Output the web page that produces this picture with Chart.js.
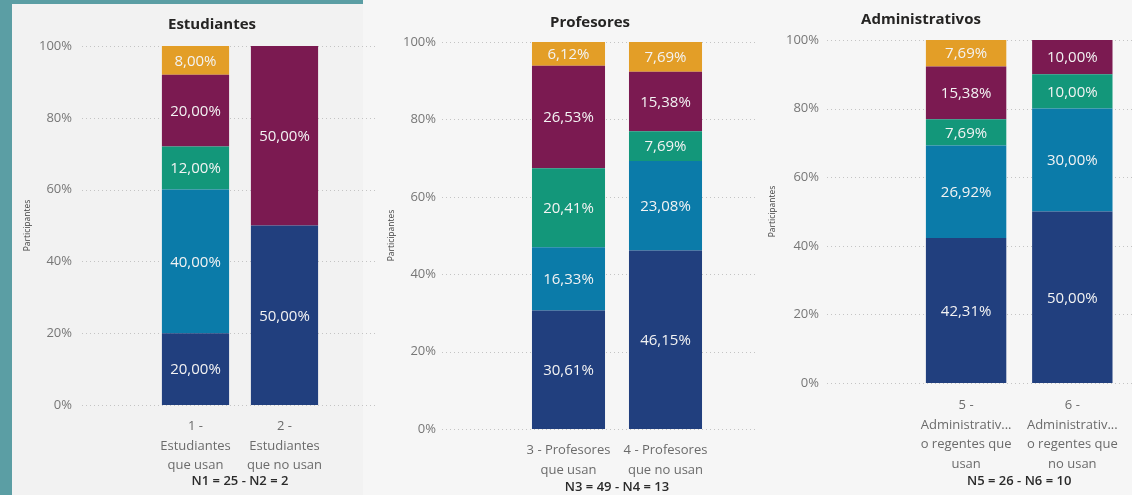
<!DOCTYPE html>
<html><head><meta charset="utf-8">
<script src="https://cdn.jsdelivr.net/npm/chart.js"></script>
<style>
html,body{margin:0;padding:0;width:1132px;height:495px;overflow:hidden;background:#f6f6f6;font-family:"Open Sans",sans-serif}
#strip{position:absolute;left:0;top:0;width:12px;height:495px;background:#5b9ea4}
#topbar{position:absolute;left:0;top:0;width:363px;height:4px;background:#5b9ea4}
#p1bg{position:absolute;left:12px;top:4px;width:351px;height:491px;background:#f2f2f2}
canvas{position:absolute;top:0}
.title{position:absolute;font-weight:700;font-size:15px;color:#252423;transform:translate(-50%,-50%);white-space:nowrap}
</style></head><body>
<div id="p1bg"></div>
<div id="strip"></div><div id="topbar"></div>
<canvas id="c1" width="368" height="495" style="left:12px"></canvas>
<canvas id="c2" width="380" height="495" style="left:380px"></canvas>
<canvas id="c3" width="372" height="495" style="left:760px"></canvas>
<div class="title" style="left:212px;top:23px">Estudiantes</div>
<div class="title" style="left:590px;top:21px">Profesores</div>
<div class="title" style="left:921px;top:18px">Administrativos</div>
<script>
// ---- data ----
const seriesNames = ['Serie 1', 'Serie 2', 'Serie 3', 'Serie 4', 'Serie 5'];
const yTickValues = [0, 20, 40, 60, 80, 100];

const estCategories = [['1 -', 'Estudiantes', 'que usan'], ['2 -', 'Estudiantes', 'que no usan']];
const estS1 = [20.00, 50.00];
const estS2 = [40.00, 0];
const estS3 = [12.00, 0];
const estS4 = [20.00, 50.00];
const estS5 = [8.00, 0];
const estNote = 'N1 = 25 - N2 = 2';

const profCategories = [['3 - Profesores', 'que usan'], ['4 - Profesores', 'que no usan']];
const profS1 = [30.61, 46.15];
const profS2 = [16.33, 23.08];
const profS3 = [20.41, 7.69];
const profS4 = [26.53, 15.38];
const profS5 = [6.12, 7.69];
const profNote = 'N3 = 49 - N4 = 13';

const admCategories = [['5 -', 'Administrativ...', 'o regentes que', 'usan'], ['6 -', 'Administrativ...', 'o regentes que', 'no usan']];
const admS1 = [42.31, 50.00];
const admS2 = [26.92, 30.00];
const admS3 = [7.69, 10.00];
const admS4 = [15.38, 10.00];
const admS5 = [7.69, 0];
const admNote = 'N5 = 26 - N6 = 10';

const colors = ['#213f7e', '#0b7ba9', '#13977a', '#7b1a51', '#e39e27'];

// ---- plugins ----
const fmt = v => v.toFixed(2).replace('.', ',') + '%';
const valueLabels = {
  id: 'valueLabels',
  afterDatasetsDraw(chart) {
    const ctx = chart.ctx;
    ctx.save();
    ctx.font = '15px "Open Sans"';
    ctx.fillStyle = '#f3f3f3';
    ctx.textAlign = 'center';
    ctx.textBaseline = 'middle';
    chart.data.datasets.forEach((ds, i) => {
      const meta = chart.getDatasetMeta(i);
      meta.data.forEach((bar, j) => {
        const v = ds.data[j];
        if (!v) return;
        const p = bar.getProps(['x', 'y', 'base'], true);
        ctx.fillText(fmt(v), p.x, (p.y + p.base) / 2 + 1);
      });
    });
    ctx.restore();
  }
};
const dottedGrid = {
  id: 'dottedGrid',
  beforeDatasetsDraw(chart, args, opts) {
    const ctx = chart.ctx, ys = chart.scales.y;
    ctx.save();
    ctx.strokeStyle = '#c4c4c4';
    ctx.lineWidth = 1;
    ctx.setLineDash([1, 3]);
    ys.ticks.forEach(t => {
      const py = Math.round(ys.getPixelForValue(t.value)) + 0.5;
      ctx.beginPath();
      ctx.moveTo(opts.x0, py);
      ctx.lineTo(opts.x1, py);
      ctx.stroke();
    });
    ctx.restore();
  }
};

function makeChart(id, cats, series, note, g) {
  new Chart(document.getElementById(id), {
    type: 'bar',
    data: {
      labels: cats,
      datasets: series.map((d, i) => ({
        label: seriesNames[i], data: d, backgroundColor: colors[i],
        borderWidth: 0, categoryPercentage: 1, barPercentage: g.bp
      }))
    },
    options: {
      responsive: false, animation: false, devicePixelRatio: 1,
      layout: { padding: { top: g.top, right: g.right, bottom: 0, left: 0 } },
      plugins: {
        legend: { display: false }, tooltip: { enabled: false },
        dottedGrid: { x0: g.gx0, x1: g.gx1 }
      },
      scales: {
        x: {
          stacked: true,
          grid: { display: false, drawTicks: false }, border: { display: false },
          ticks: { color: '#6b6b6b', font: { family: 'Open Sans', size: 13, lineHeight: 1.5 }, padding: g.xpad, maxRotation: 0, autoSkip: false },
          title: { display: true, text: note, color: '#2b2b2b', font: { family: 'Open Sans', size: 13, weight: '600', lineHeight: 1.2 }, padding: { top: 0, bottom: g.tpb } },
          afterFit(s) { s.height = g.xh; }
        },
        y: {
          stacked: true, min: 0, max: 100,
          afterBuildTicks(s) { s.ticks = yTickValues.map(v => ({ value: v })); },
          grid: { display: false, drawTicks: true, tickLength: g.ypad }, border: { display: false },
          ticks: { color: '#777', font: { family: 'Open Sans', size: 13 }, padding: 0, callback: v => v + '%' },
          title: { display: true, text: 'Participantes', color: '#444', font: { family: 'Open Sans', size: 8.5, lineHeight: 1.2 }, padding: { top: g.ytp, bottom: 0 } },
          afterFit(s) { s.width = g.yw; }
        }
      }
    },
    plugins: [dottedGrid, valueLabels]
  });
}

makeChart('c1', estCategories, [estS1, estS2, estS3, estS4, estS5], estNote,
  { bp: 0.755, top: 46, right: 51, xh: 90, xpad: 12, tpb: 6, yw: 139, ypad: 79, ytp: 10, gx0: 70, gx1: 366 });
makeChart('c2', profCategories, [profS1, profS2, profS3, profS4, profS5], profNote,
  { bp: 0.753, top: 42, right: 46, xh: 66, xpad: 12, tpb: 0, yw: 140, ypad: 84, ytp: 6, gx0: 62, gx1: 378 });
makeChart('c3', admCategories, [admS1, admS2, admS3, admS4, admS5], admNote,
  { bp: 0.757, top: 40, right: 5, xh: 112, xpad: 13, tpb: 6, yw: 153, ypad: 94, ytp: 7, gx0: 67, gx1: 372 });
</script>
</body></html>
